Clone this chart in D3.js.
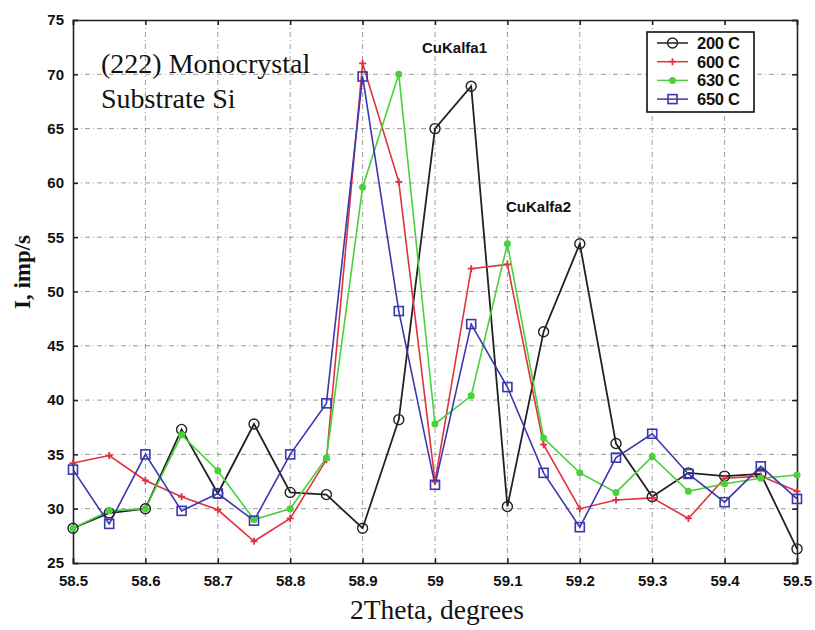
<!DOCTYPE html>
<html>
  <head>
    <script src="https://d3js.org/d3.v7.min.js"></script>
    <style>
      body { margin: 0; background: #fff; }
      .tick text { font-family: "Liberation Sans", Arial, sans-serif; font-weight: bold; font-size: 15px; fill: #111; }
      .grid line { stroke: #9a9a9a; stroke-width: 1; stroke-dasharray: 5,3,1,3; }
      .serif { font-family: "Liberation Serif", "Times New Roman", serif; fill: #111; }
      .ann { font-family: "Liberation Sans", Arial, sans-serif; font-weight: bold; font-size: 15px; fill: #111; }
    </style>
  </head>
  <body>
    <div id="chart"></div>
    <script>
      // data
      const theta = [58.5, 58.55, 58.6, 58.65, 58.7, 58.75, 58.8, 58.85, 58.9, 58.95, 59.0,
                     59.05, 59.1, 59.15, 59.2, 59.25, 59.3, 59.35, 59.4, 59.45, 59.5];
      const c200 = [28.2, 29.6, 30.0, 37.3, 31.4, 37.8, 31.5, 31.3, 28.2, 38.2, 65.0,
                    68.9, 30.2, 46.3, 54.4, 36.0, 31.1, 33.3, 33.0, 33.2, 26.3];
      const c600 = [34.2, 34.9, 32.6, 31.1, 29.9, 27.0, 29.1, 34.5, 71.0, 60.1, 32.5,
                    52.1, 52.5, 35.9, 30.0, 30.8, 31.0, 29.1, 32.8, 33.0, 31.6];
      const c630 = [28.2, 29.8, 30.0, 36.8, 33.5, 29.0, 30.0, 34.7, 59.6, 70.0, 37.8,
                    40.4, 54.4, 36.5, 33.3, 31.5, 34.8, 31.6, 32.3, 32.8, 33.1];
      const c650 = [33.6, 28.6, 35.0, 29.8, 31.4, 28.9, 35.0, 39.7, 69.8, 48.2, 32.2,
                    47.0, 41.2, 33.3, 28.3, 34.7, 36.9, 33.2, 30.6, 33.9, 30.9];
      const seriesNames = ["200 C", "600 C", "630 C", "650 C"];
      const xTicks = [58.5, 58.6, 58.7, 58.8, 58.9, 59, 59.1, 59.2, 59.3, 59.4, 59.5];
      const yTicks = [25, 30, 35, 40, 45, 50, 55, 60, 65, 70, 75];

      const series = [
        { name: seriesNames[0], values: c200, color: "#222222", marker: "circle" },
        { name: seriesNames[1], values: c600, color: "#e0323c", marker: "plus" },
        { name: seriesNames[2], values: c630, color: "#49d13c", marker: "dot" },
        { name: seriesNames[3], values: c650, color: "#3a37b0", marker: "square" }
      ];

      const margin = { top: 20, right: 18, bottom: 67, left: 73 };
      const W = 815, H = 630;
      const width = W - margin.left - margin.right;
      const height = H - margin.top - margin.bottom;

      const svg = d3.select("#chart").append("svg")
        .attr("width", W).attr("height", H);
      const g = svg.append("g")
        .attr("transform", `translate(${margin.left}, ${margin.top})`);

      const x = d3.scaleLinear().domain([58.5, 59.5]).range([0, width]);
      const y = d3.scaleLinear().domain([25, 75]).range([height, 0]);

      // grid
      g.append("g").attr("class", "grid")
        .selectAll("line").data(xTicks.slice(1, -1)).join("line")
        .attr("x1", d => x(d)).attr("x2", d => x(d))
        .attr("y1", 0).attr("y2", height);
      g.append("g").attr("class", "grid")
        .selectAll("line").data(yTicks.slice(1, -1)).join("line")
        .attr("y1", d => y(d)).attr("y2", d => y(d))
        .attr("x1", 0).attr("x2", width);

      // axes (ticks pointing inward, on all four sides)
      const xAxis = g.append("g").attr("transform", `translate(0, ${height})`)
        .call(d3.axisBottom(x).tickValues(xTicks).tickSize(-5).tickPadding(9).tickFormat(d3.format("")));
      g.append("g")
        .call(d3.axisTop(x).tickValues(xTicks).tickSize(-5).tickFormat(""));
      g.append("g")
        .call(d3.axisLeft(y).tickValues(yTicks).tickSize(-5).tickPadding(9));
      g.append("g").attr("transform", `translate(${width}, 0)`)
        .call(d3.axisRight(y).tickValues(yTicks).tickSize(-5).tickFormat(""));
      g.selectAll(".domain").attr("stroke", "#222").attr("stroke-width", 1.6);
      g.selectAll(".tick line").attr("stroke", "#222").attr("stroke-width", 1.5);
      xAxis.selectAll(".tick text").attr("dy", "0.9em");

      // lines
      const line = d3.line().x((d, i) => x(theta[i])).y(d => y(d));
      series.forEach(s => {
        g.append("path").datum(s.values)
          .attr("fill", "none")
          .attr("stroke", s.color)
          .attr("stroke-width", s.marker === "circle" ? 1.8 : 1.6)
          .attr("d", line);
      });

      function drawMarker(sel, s, px, py) {
        if (s.marker === "circle") {
          sel.append("circle").attr("cx", px).attr("cy", py).attr("r", 5)
            .attr("fill", "none").attr("stroke", s.color).attr("stroke-width", 1.4);
        } else if (s.marker === "plus") {
          sel.append("path").attr("d", `M${px - 3.5},${py}H${px + 3.5}M${px},${py - 3.5}V${py + 3.5}`)
            .attr("stroke", s.color).attr("stroke-width", 1.8);
        } else if (s.marker === "dot") {
          sel.append("circle").attr("cx", px).attr("cy", py).attr("r", 3.5)
            .attr("fill", s.color);
        } else {
          sel.append("rect").attr("x", px - 4.5).attr("y", py - 4.5)
            .attr("width", 9).attr("height", 9)
            .attr("fill", "none").attr("stroke", s.color).attr("stroke-width", 1.6);
        }
      }

      series.forEach(s => {
        const mg = g.append("g");
        s.values.forEach((v, i) => drawMarker(mg, s, x(theta[i]), y(v)));
      });

      // annotations
      g.append("text").attr("class", "serif")
        .attr("x", 101 - margin.left).attr("y", 73 - margin.top)
        .style("font-size", "28px").text("(222) Monocrystal");
      g.append("text").attr("class", "serif")
        .attr("x", 101 - margin.left).attr("y", 108 - margin.top)
        .style("font-size", "28px").text("Substrate Si");
      g.append("text").attr("class", "ann")
        .attr("x", 422 - margin.left).attr("y", 53 - margin.top).text("CuKalfa1");
      g.append("text").attr("class", "ann")
        .attr("x", 506 - margin.left).attr("y", 212 - margin.top).text("CuKalfa2");

      // legend
      const leg = svg.append("g").attr("transform", "translate(647, 32)");
      leg.append("rect").attr("width", 107).attr("height", 80)
        .attr("fill", "#fff").attr("stroke", "#111").attr("stroke-width", 1.6);
      series.forEach((s, i) => {
        const ly = 11 + i * 18.7;
        leg.append("line").attr("x1", 10).attr("x2", 41).attr("y1", ly).attr("y2", ly)
          .attr("stroke", s.color).attr("stroke-width", 1.5);
        drawMarker(leg, s, 25.5, ly);
        leg.append("text").attr("class", "ann").attr("x", 50).attr("y", ly + 6)
          .style("font-size", "16.5px").style("letter-spacing", "-0.3px").text(s.name);
      });

      // axis titles
      svg.append("text").attr("class", "serif")
        .attr("x", margin.left + width / 2 + 2).attr("y", 619)
        .attr("text-anchor", "middle").style("font-size", "27.5px")
        .text("2Theta, degrees");
      svg.append("text").attr("class", "serif")
        .attr("transform", "translate(30, 272) rotate(-90)")
        .attr("text-anchor", "middle").style("font-size", "23px")
        .style("font-weight", "bold").attr("fill", "#2a3418")
        .text("I, imp/s");
    </script>
  </body>
</html>
